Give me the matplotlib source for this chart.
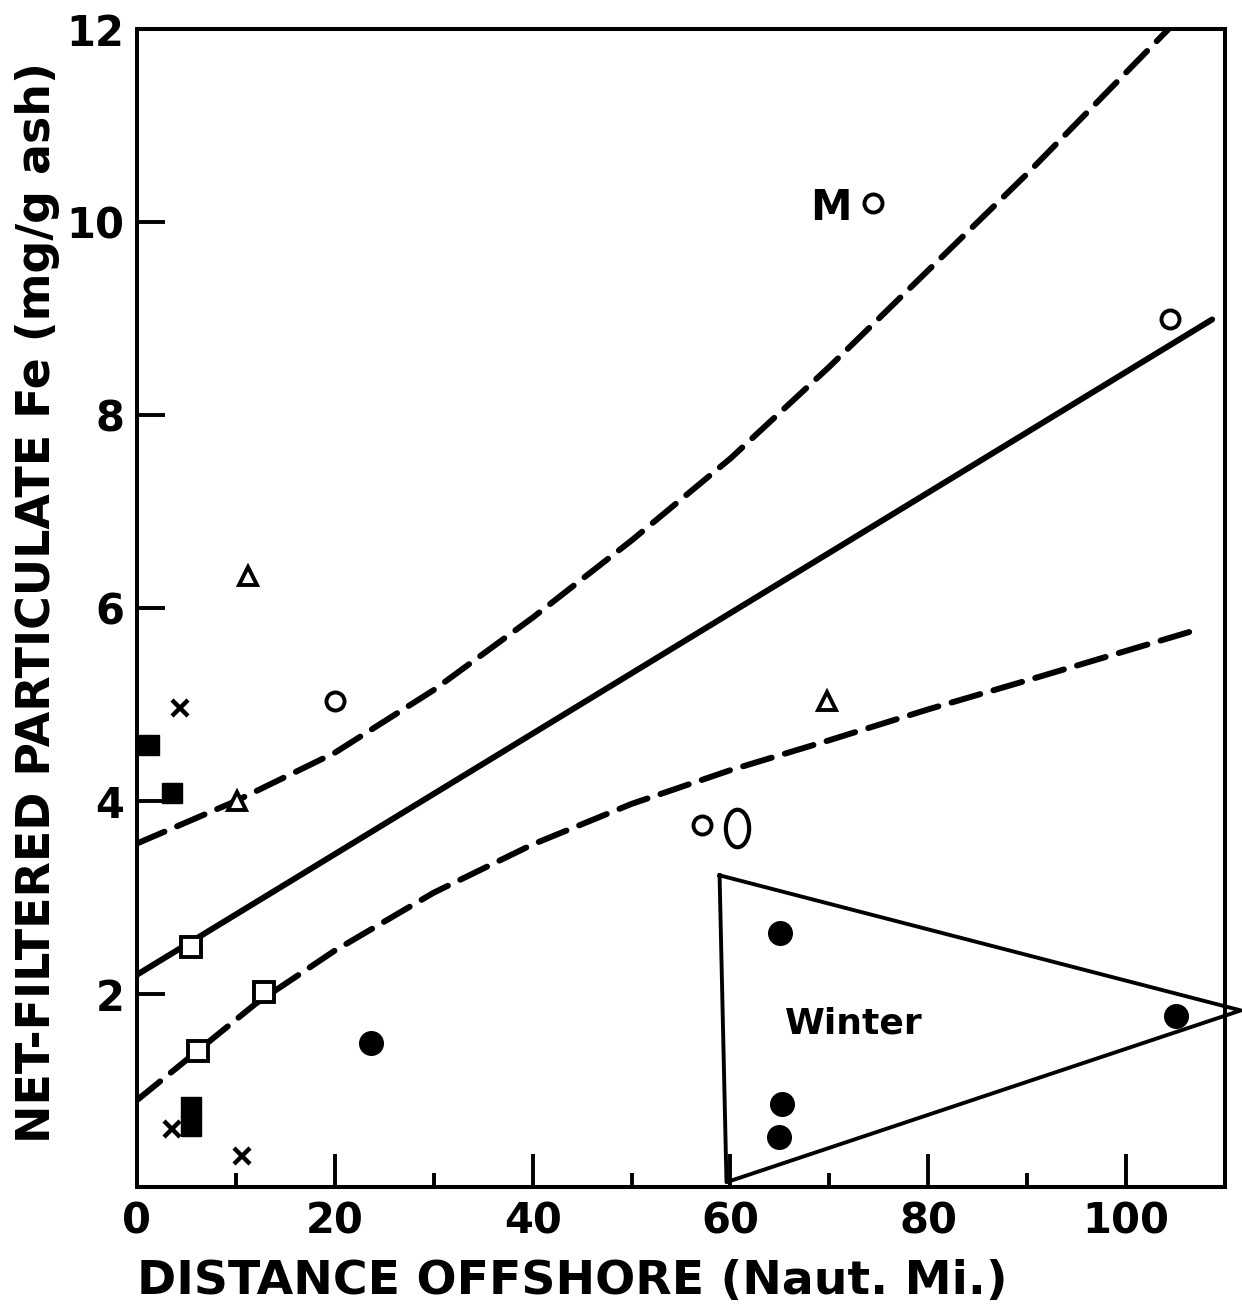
import numpy as np
import matplotlib.pyplot as plt
from matplotlib.path import Path
from matplotlib.transforms import Affine2D
from matplotlib.ticker import MultipleLocator

plt.rcParams['font.family'] = ['DejaVu Sans']
plt.rcParams['font.weight'] = 'bold'
plt.rcParams['axes.labelweight'] = 'bold'

# puntos (millas nauticas, mg/g ceniza)
filled_sq_x = [1.2, 3.5, 5.5, 5.5]
filled_sq_y = [4.58, 4.08, 0.83, 0.63]
open_sq_x = [5.5, 6.2, 12.8]
open_sq_y = [2.49, 1.41, 2.02]
open_tri_x = [11.2, 10.1, 69.8]
open_tri_y = [6.33, 4.0, 5.04]
cross_x = [4.3, 3.5, 10.6]
cross_y = [4.96, 0.6, 0.32]
open_circ_x = [20.0, 74.4, 104.4, 57.1]
open_circ_y = [5.04, 10.2, 8.99, 3.75]
big_o_x = [60.7]
big_o_y = [3.72]
filled_circ_x = [23.7, 65.0, 65.2, 64.9, 105.0]
filled_circ_y = [1.49, 2.63, 0.86, 0.52, 1.77]

# recta de regresion y bandas de confianza
fit_x = [0, 108.7]
fit_y = [2.2, 8.99]
upper_x = [0, 10, 20, 30, 40, 50, 60, 70, 80, 90, 104.3]
upper_y = [3.56, 4.0, 4.5, 5.15, 5.9, 6.7, 7.55, 8.5, 9.5, 10.5, 12.0]
lower_x = [0, 6, 12, 20, 30, 40, 50, 60, 70, 80, 90, 107]
lower_y = [0.9, 1.4, 1.9, 2.45, 3.05, 3.55, 3.97, 4.32, 4.63, 4.95, 5.25, 5.77]

# triangulo "Winter"
winter_x = [58.9, 59.6, 111.6, 58.9]
winter_y = [3.23, 0.05, 1.83, 3.23]

xticks = [0, 20, 40, 60, 80, 100]
yticks = [2, 4, 6, 8, 10, 12]

fig = plt.figure(figsize=(12.42, 13.07), dpi=100)
ax = fig.add_axes([0.1103, 0.0918, 0.8760, 0.8860])

dash = (0, (5, 2.3))
ax.plot(fit_x, fit_y, color='black', lw=4.3, solid_capstyle='round')
ax.plot(upper_x, upper_y, color='black', lw=4.3, linestyle=dash, dash_capstyle='round')
ax.plot(lower_x, lower_y, color='black', lw=4.3, linestyle=dash, dash_capstyle='round')
ax.plot(winter_x, winter_y, color='black', lw=2.8, clip_on=False)

ax.plot(filled_sq_x, filled_sq_y, 's', ms=15, color='black', clip_on=False)
ax.plot(open_sq_x, open_sq_y, 's', ms=14, mfc='white', mec='black', mew=2.8)
ax.plot(open_tri_x, open_tri_y, '^', ms=13, mfc='white', mec='black', mew=2.8)
ax.plot(cross_x, cross_y, 'x', ms=12, mec='black', mew=3.2)
ax.plot(open_circ_x, open_circ_y, 'o', ms=13, mfc='white', mec='black', mew=2.8)
oval = Path.unit_circle().transformed(Affine2D().scale(0.62, 1.0))
ax.plot(big_o_x, big_o_y, marker=oval, ms=27, mfc='none', mec='black', mew=3.0, linestyle='none')
ax.plot(filled_circ_x, filled_circ_y, 'o', ms=17, color='black')

ax.text(70.2, 10.15, 'M', fontsize=30, ha='center', va='center')
ax.text(72.5, 1.69, 'Winter', fontsize=26, ha='center', va='center')

ax.set_xlim(0, 110)
ax.set_ylim(0, 12)
ax.set_xticks(xticks)
ax.set_yticks(yticks)
ax.xaxis.set_minor_locator(MultipleLocator(10))
ax.tick_params(axis='both', which='major', direction='in', width=2.8,
               labelsize=30, pad=10)
ax.tick_params(axis='x', which='major', length=24)
ax.tick_params(axis='y', which='major', length=20, pad=9)
ax.tick_params(axis='x', which='minor', direction='in', length=10, width=2.8)
for s in ax.spines.values():
    s.set_linewidth(2.9)

ax.set_xlabel('DISTANCE OFFSHORE (Naut. Mi.)', fontsize=34)
ax.xaxis.set_label_coords(44 / 110, -0.062)
ax.set_ylabel('NET-FILTERED PARTICULATE Fe (mg/g ash)', fontsize=33)
ax.yaxis.set_label_coords(-0.071, 0.505)

fig.savefig('out.png', dpi=100)
